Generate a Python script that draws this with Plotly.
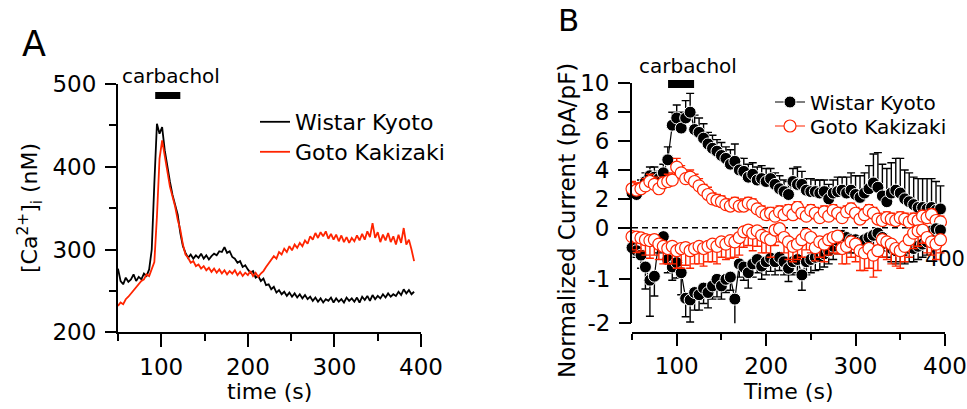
import plotly.graph_objects as go

FONT = "DejaVu Sans, Liberation Sans, Arial, sans-serif"
RED = "#ff2400"

# ---------------- Panel A : [Ca2+]i traces ----------------
time_a = list(range(50, 393, 3))
wky_ca = [277, 262, 258, 266, 261, 264, 270, 262, 267, 264,
          271, 268, 276, 300, 380, 452, 440, 448, 420, 400,
          382, 366, 352, 342, 320, 304, 296, 290, 294, 289,
          293, 290, 295, 289, 293, 288, 292, 295, 293, 298,
          297, 303, 296, 298, 291, 289, 284, 286, 279, 281,
          276, 272, 274, 266, 268, 262, 265, 257, 258, 252,
          255, 248, 251, 246, 249, 244, 248, 243, 247, 242,
          246, 241, 245, 240, 243, 238, 242, 237, 241, 236,
          240, 238, 242, 236, 241, 237, 240, 236, 242, 238,
          241, 237, 242, 236, 243, 239, 244, 238, 245, 240,
          244, 241, 246, 242, 247, 243, 246, 244, 249, 245,
          252, 247, 251, 246, 249]
gk_ca = [232, 236, 234, 240, 243, 247, 251, 255, 258, 262,
         264, 270, 268, 276, 285, 340, 410, 432, 414, 392,
         376, 364, 352, 336, 324, 306, 294, 290, 284, 286,
         280, 282, 277, 280, 275, 278, 273, 277, 272, 276,
         271, 275, 270, 274, 271, 275, 269, 273, 268, 272,
         269, 274, 268, 272, 267, 271, 274, 279, 283, 287,
         292, 289, 297, 294, 301, 297, 304, 299, 306, 302,
         308, 304, 311, 307, 316, 312, 320, 314, 321, 316,
         322, 313, 319, 312, 318, 310, 317, 309, 315, 308,
         314, 310, 317, 311, 319, 312, 322, 315, 332, 314,
         321, 309, 318, 311, 320, 309, 316, 306, 318, 308,
         326, 306, 312, 300, 286]

# ---------------- Panel B : normalized current ----------------
time_b = list(range(50, 400, 5))
wky_up = [2.4, 2.3, 2.8, 3.2, 3.6, 3.5, 3.4, 3.8, 4.7, 7.1,
          7.6, 6.9, 7.6, 8.0, 6.8, 6.6, 6.2, 5.8, 5.5, 5.3,
          5.0, 4.8, 4.4, 4.6, 4.0, 3.9, 3.5, 3.7, 3.3, 3.4,
          3.2, 3.4, 3.0, 2.7, 2.5, 2.3, 3.2, 3.0, 3.0, 2.6,
          2.5, 2.5, 2.4, 2.5, 2.0, 2.4, 2.5, 2.6, 2.4, 2.6,
          2.3, 2.1, 2.4, 2.7, 3.1, 2.8, 2.2, 1.8, 2.4, 2.6,
          2.4, 2.0, 1.8, 1.6, 1.4, 1.4, 1.3, 1.4, 1.2, 1.3]
wky_up_err = [0.4, 0.5, 0.5, 0.6, 0.6, 0.7, 0.5, 0.6, 0.9, 0.9,
              0.9, 1.1, 1.2, 1.3, 1.0, 1.0, 1.0, 0.8, 0.9, 0.8,
              0.9, 0.8, 1.0, 1.2, 0.8, 0.9, 0.9, 0.8, 0.9, 0.9,
              0.9, 0.7, 0.8, 0.9, 0.8, 0.9, 0.9, 1.2, 0.9, 0.8,
              0.9, 0.8, 0.9, 0.8, 1.0, 0.9, 1.0, 0.9, 1.1, 1.2,
              1.3, 1.5, 1.4, 1.6, 2.0, 2.4, 2.2, 2.3, 2.1, 2.2,
              2.4, 2.0, 2.0, 1.9, 2.0, 2.0, 2.1, 2.0, 2.0, 1.6]
gk_up = [2.7, 2.6, 2.7, 2.9, 3.2, 3.0, 2.7, 3.1, 3.2, 3.3,
         4.2, 3.8, 3.4, 3.5, 3.2, 2.9, 2.6, 2.3, 2.0, 1.9,
         1.8, 1.6, 1.5, 1.7, 1.5, 1.5, 1.7, 1.6, 1.3, 1.1,
         0.9, 1.0, 0.8, 1.1, 0.9, 1.2, 0.9, 1.4, 1.0, 0.8,
         1.2, 1.0, 0.7, 1.1, 0.8, 1.2, 1.0, 0.7, 1.1, 1.3,
         1.0, 0.6, 0.9, 1.2, 1.0, 0.6, 0.5, 0.7, 0.6, 0.5,
         0.7, 0.6, 0.4, 0.6, 0.5, 0.8, 0.7, 0.9, 0.5, 0.4]
gk_up_err = [0.5, 0.5, 0.4, 0.5, 0.5, 0.5, 0.5, 0.4, 0.5, 0.5,
             0.6, 0.5, 0.5, 0.5, 0.5, 0.5, 0.4, 0.5, 0.4, 0.4,
             0.4, 0.4, 0.4, 0.4, 0.4, 0.5, 0.4, 0.4, 0.4, 0.4,
             0.4, 0.4, 0.4, 0.4, 0.4, 0.4, 0.4, 0.4, 0.4, 0.4,
             0.4, 0.4, 0.4, 0.4, 0.4, 0.4, 0.4, 0.4, 0.4, 0.4,
             0.4, 0.4, 0.4, 0.4, 0.4, 0.4, 0.4, 0.4, 0.4, 0.4,
             0.4, 0.4, 0.4, 0.4, 0.4, 0.4, 0.4, 0.4, 0.4, 0.4]
wky_lo = [-0.28, -0.35, -0.45, -0.72, -1.02, -0.93, -0.1, -0.03, -0.55, -0.72,
          -0.62, -0.85, -1.43, -1.47, -1.3, -1.35, -1.2, -1.3, -1.15, -1.0,
          -1.15, -1.0, -0.95, -1.45, -0.65, -0.72, -0.85, -0.65, -0.55, -0.7,
          -0.6, -0.52, -0.6, -0.5, -0.6, -0.75, -0.6, -0.55, -0.9, -0.6,
          -0.55, -0.5, -0.48, -0.42, -0.35, -0.25, -0.12, 0.0, -0.05, -0.1,
          -0.1, -0.15, -0.1, -0.05, 0.0, 0.05, -0.05, -0.2, -0.3, -0.35,
          -0.3, -0.35, -0.3, -0.3, -0.25, -0.2, -0.15, 0.1, 0.15, 0.12]
wky_lo_err = [0.1, 0.15, 0.3, 0.5, 0.82, 0.45, 0.3, 0.25, 0.3, 0.3,
              0.35, 0.5, 0.42, 0.5, 0.4, 0.35, 0.35, 0.35, 0.3, 0.4,
              0.3, 0.3, 0.3, 0.62, 0.3, 0.3, 0.35, 0.3, 0.3, 0.3,
              0.3, 0.3, 0.3, 0.3, 0.3, 0.3, 0.3, 0.3, 0.35, 0.3,
              0.3, 0.3, 0.3, 0.3, 0.3, 0.3, 0.3, 0.3, 0.3, 0.3,
              0.3, 0.3, 0.3, 0.3, 0.3, 0.3, 0.3, 0.3, 0.3, 0.3,
              0.3, 0.3, 0.3, 0.3, 0.3, 0.3, 0.3, 0.3, 0.3, 0.3]
gk_lo = [-0.03, -0.04, -0.06, -0.1, -0.12, -0.1, -0.2, -0.25, -0.3, -0.25,
         -0.35, -0.3, -0.28, -0.35, -0.3, -0.25, -0.3, -0.25, -0.2, -0.25,
         -0.15, -0.2, -0.12, -0.15, -0.05, 0.08, 0.12, 0.05, 0.1, 0.0,
         -0.05, -0.1, 0.12, 0.15, -0.05, -0.15, -0.25, -0.2, -0.1, 0.02,
         -0.05, -0.28, -0.15, -0.2, -0.1, -0.05, -0.02, -0.3, -0.25, -0.15,
         -0.2, -0.35, -0.4, -0.3, -0.45, -0.35, -0.1, -0.15, -0.2, -0.3,
         -0.35, -0.25, -0.1, 0.05, 0.1, 0.12, -0.05, -0.15, -0.2, -0.1]
gk_lo_err = [0.3, 0.35, 0.3, 0.35, 0.4, 0.35, 0.35, 0.4, 0.35, 0.4,
             0.4, 0.45, 0.4, 0.4, 0.35, 0.4, 0.4, 0.35, 0.4, 0.4,
             0.35, 0.35, 0.4, 0.35, 0.4, 0.35, 0.35, 0.4, 0.35, 0.4,
             0.35, 0.4, 0.35, 0.3, 0.35, 0.4, 0.35, 0.35, 0.4, 0.35,
             0.35, 0.3, 0.35, 0.4, 0.35, 0.35, 0.4, 0.35, 0.4, 0.35,
             0.4, 0.45, 0.4, 0.45, 0.5, 0.45, 0.4, 0.4, 0.45, 0.4,
             0.4, 0.35, 0.4, 0.35, 0.35, 0.3, 0.35, 0.3, 0.35, 0.3]

x_ticks = [100, 200, 300, 400]
ca_ticks = [200, 300, 400, 500]
up_ticks = [0, 2, 4, 6, 8, 10]
lo_ticks = [-1, -2]
carbachol_a = [93, 122]
carbachol_b = [90.3, 119.4]

zeros = [0] * len(time_b)

fig = go.Figure()

# Panel A
fig.add_trace(go.Scatter(x=time_a, y=wky_ca, mode="lines", name="Wistar Kyoto",
                         line=dict(color="black", width=1.8), xaxis="x", yaxis="y",
                         legend="legend"))
fig.add_trace(go.Scatter(x=time_a, y=gk_ca, mode="lines", name="Goto Kakizaki",
                         line=dict(color=RED, width=1.8), xaxis="x", yaxis="y",
                         legend="legend2"))

# Panel B: partially hidden tick label of an underlying graph
fig.add_trace(go.Scatter(x=[400], y=[-0.58], mode="text", text=["400"],
                         textfont=dict(family=FONT, size=21, color="black"),
                         xaxis="x2", yaxis="y3", showlegend=False, cliponaxis=False,
                         hoverinfo="skip"))

black_marker = dict(symbol="circle", size=12, color="black", line=dict(color="white", width=1))
red_marker = dict(symbol="circle", size=12, color="white", line=dict(color=RED, width=1.2))

fig.add_trace(go.Scatter(x=time_b, y=wky_lo, mode="lines+markers", showlegend=False,
                         line=dict(color="black", width=1.2), marker=black_marker,
                         error_y=dict(type="data", symmetric=False, array=zeros, arrayminus=wky_lo_err,
                                      color="black", thickness=1.4, width=4),
                         xaxis="x2", yaxis="y3", cliponaxis=False))
fig.add_trace(go.Scatter(x=time_b, y=wky_up, mode="lines+markers", name="Wistar Kyoto",
                         line=dict(color="black", width=1.2), marker=black_marker,
                         error_y=dict(type="data", symmetric=False, array=wky_up_err, arrayminus=zeros,
                                      color="black", thickness=1.4, width=4),
                         xaxis="x2", yaxis="y2", legend="legend3", cliponaxis=False))
fig.add_trace(go.Scatter(x=time_b, y=gk_lo, mode="lines+markers", showlegend=False,
                         line=dict(color=RED, width=1.2), marker=red_marker,
                         error_y=dict(type="data", symmetric=False, array=zeros, arrayminus=gk_lo_err,
                                      color=RED, thickness=1.4, width=4),
                         xaxis="x2", yaxis="y3", cliponaxis=False))
fig.add_trace(go.Scatter(x=time_b, y=gk_up, mode="lines+markers", name="Goto Kakizaki",
                         line=dict(color=RED, width=1.2), marker=red_marker,
                         error_y=dict(type="data", symmetric=False, array=gk_up_err, arrayminus=zeros,
                                      color=RED, thickness=1.4, width=4),
                         xaxis="x2", yaxis="y2", legend="legend4", cliponaxis=False))

tickfont = dict(family=FONT, size=23, color="black")
common = dict(showgrid=False, zeroline=False, showline=True, linecolor="black", linewidth=2,
              ticks="outside", tickcolor="black", tickwidth=2, tickfont=tickfont,
              automargin=False)


def leg(xpx, ypx, size):
    return dict(x=xpx / 967, y=1 - ypx / 409, xanchor="left", yanchor="middle",
                font=dict(family=FONT, size=size, color="black"), bgcolor="rgba(0,0,0,0)")


fig.update_layout(
    width=967, height=409,
    margin=dict(l=0, r=0, t=0, b=0, autoexpand=False),
    paper_bgcolor="white", plot_bgcolor="white",
    font=dict(family=FONT, color="black"),
    xaxis=dict(domain=[0.1220, 0.4354], range=[50, 400], tickmode="array", tickvals=x_ticks,
               ticklen=13, anchor="y",
               minor=dict(tickvals=[50, 150, 250, 350], ticklen=7, tickwidth=2, ticks="outside",
                          tickcolor="black"), **common),
    yaxis=dict(domain=[0.1875, 0.7946], range=[200, 500], tickmode="array", tickvals=ca_ticks,
               ticklen=11, anchor="x", ticklabelstandoff=4,
               minor=dict(tickvals=[250, 350, 450], ticklen=7, tickwidth=2, ticks="outside",
                          tickcolor="black"), **common),
    xaxis2=dict(domain=[0.6536, 0.9772], range=[50, 400], tickmode="array", tickvals=x_ticks,
                ticklen=12, anchor="free", position=0.1858,
                minor=dict(tickvals=[50, 150, 250, 350], ticklen=6, tickwidth=2, ticks="outside",
                           tickcolor="black"), **common),
    yaxis2=dict(domain=[0.2095, 0.7963], range=[-6.62, 10], tickmode="array", tickvals=up_ticks,
                ticklen=12, anchor="x2", ticklabelstandoff=4, **common),
    yaxis3=dict(overlaying="y2", anchor="x2", side="left", range=[-2, 3.4545],
                tickmode="array", tickvals=lo_ticks, ticktext=["-1", "-2"],
                showgrid=False, zeroline=False, showline=False, ticks="outside",
                tickcolor="black", tickwidth=2, ticklen=12, tickfont=tickfont,
                ticklabelstandoff=4, automargin=False),
    legend=leg(255, 122, 22),
    legend2=leg(255, 152, 22),
    legend3=leg(770, 102, 20),
    legend4=leg(770, 126, 20),
    shapes=[
        dict(type="rect", xref="x", yref="paper", x0=carbachol_a[0], x1=carbachol_a[1],
             y0=0.7579, y1=0.7751, fillcolor="black", line=dict(width=0)),
        dict(type="rect", xref="x2", yref="paper", x0=carbachol_b[0], x1=carbachol_b[1],
             y0=0.7848, y1=0.8044, fillcolor="black", line=dict(width=0)),
        dict(type="line", xref="x2", yref="y2", x0=50, x1=400, y0=0, y1=0, layer="below",
             line=dict(color="black", width=1.5, dash="6px,4px")),
    ],
)

ann = dict(showarrow=False, xanchor="center", yanchor="middle")
fig.update_layout(annotations=[
    dict(text="A", x=0.0352, y=0.8924, xref="paper", yref="paper", font=dict(size=35), **ann),
    dict(text="B", x=0.5884, y=0.9511, xref="paper", yref="paper", font=dict(size=31), **ann),
    dict(text="carbachol", x=111.4, y=0.8142, xref="x", yref="paper", font=dict(size=20), **ann),
    dict(text="carbachol", x=112.6, y=0.8386, xref="x2", yref="paper", font=dict(size=20), **ann),
    dict(text="[Ca<sup>2+</sup>]<sub>i</sub> (nM)", x=0.031, y=0.4914, xref="paper",
         yref="paper", textangle=-90, font=dict(size=22), **ann),
    dict(text="time (s)", x=0.2792, y=0.0416, xref="paper", yref="paper",
         font=dict(size=22), **ann),
    dict(text="Normalized Current (pA/pF)", x=0.5863, y=0.4621, xref="paper", yref="paper",
         textangle=-90, font=dict(size=23), **ann),
    dict(text="Time (s)", x=0.8149, y=0.0416, xref="paper", yref="paper",
         font=dict(size=22), **ann),
])

fig.write_html("out.html")
